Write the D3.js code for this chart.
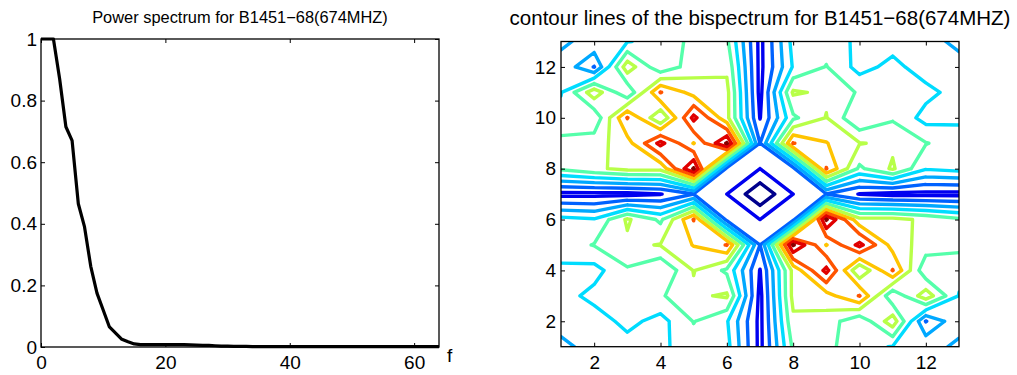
<!DOCTYPE html>
<html><head><meta charset="utf-8">
<script src="https://cdn.jsdelivr.net/npm/d3@7"></script>
<style>
body{margin:0;background:#fff}
text{font-family:Helvetica,Arial,"Liberation Sans",sans-serif;fill:#000}
</style>
</head><body>
<svg id="chart" width="1017" height="375"></svg>
<script>
// ---------- data: power spectrum ----------
const powerF = [0,1,2,3,4,5,6,7,8,9,10,11,12,13,14,15,16,17,18,19,20,21,22,23,24,25,26,27,28,29,30,31,32,33,34,35,36,37,38,39,40,41,42,43,44,45,46,47,48,49,50,51,52,53,54,55,56,57,58,59,60,61,62,63,64];
const powerVals = [1.0,1.0,1.0,0.87,0.715,0.67,0.465,0.39,0.262,0.175,0.12,0.065,0.045,0.025,0.017,0.01,0.008,0.008,0.008,0.008,0.008,0.008,0.008,0.008,0.007,0.006,0.005,0.005,0.004,0.003,0.003,0.002,0.002,0.002,0.001,0.001,0.001,0.001,0.001,0.001,0.001,0.001,0.001,0.001,0.001,0.001,0.001,0.001,0.001,0.001,0.001,0.001,0.001,0.001,0.001,0.001,0.001,0.001,0.001,0.001,0.001,0.001,0.001,0.001,0.001];
const powerXTicks = [0,20,40,60];
const powerYTicks = [0,0.2,0.4,0.6,0.8,1];

// ---------- data: bispectrum magnitude (rows listed from y=13 down to y=1, columns x=1..13) ----------
const gridX = [1,2,3,4,5,6,7,8,9,10,11,12,13];
const gridY = [1,2,3,4,5,6,7,8,9,10,11,12,13];
const bispecRowsTopDown = [
 [3.6, 4.8, 4.95,5.3, 6.3, 6.2, 1.7, 5.35,5.5, 4.8, 4.6, 4.6, 3.6],
 [4.8, 2.95,7.6, 5.2, 6.55,6.8, 1.7, 5.1, 6.05,4.63,5.3, 4.5, 4.6],
 [4.95,7.6, 5.15,9.05,7.6, 7.3, 1.7, 7.15,6.8, 5.87,5.5, 5.3, 4.6],
 [5.3, 5.2, 9.05,6.05,10.3,7.3, 1.95,5.8, 7.05,5.0, 5.87,4.63,4.8],
 [6.3, 6.55,7.6, 10.3,7.95,11.1,2.98,9.05,8.05,7.05,6.8, 6.05,5.5],
 [6.2, 6.8, 7.3, 7.3, 11.1,2.7, 2.0, 2.7, 9.05,5.8, 7.15,5.1, 5.35],
 [1.7, 1.7, 1.7, 1.95,2.98,2.0, 0.2, 2.0, 2.98,1.95,1.7, 1.7, 1.7],
 [5.35,5.1, 7.15,5.8, 9.05,2.7, 2.0, 2.7, 11.1,7.3, 7.3, 6.8, 6.2],
 [5.5, 6.05,6.8, 7.05,8.05,9.05,2.98,11.1,7.95,10.3,7.6, 6.55,6.3],
 [4.8, 4.63,5.87,5.0, 7.05,5.8, 1.95,7.3, 10.3,6.05,9.05,5.2, 5.3],
 [4.6, 5.3, 5.5, 5.87,6.8, 7.15,1.7, 7.3, 7.6, 9.05,5.15,7.6, 4.95],
 [4.6, 4.5, 5.3, 4.63,6.05,5.1, 1.7, 6.8, 6.55,5.2, 7.6, 2.95,4.8],
 [3.6, 4.6, 4.6, 4.8, 5.5, 5.35,1.7, 6.2, 6.3, 5.3, 4.95,4.8, 3.6]
];
const contourLevels = [1,2,3,4,5,6,7,8,9,10,11];
const levelColors = ["#00008c","#0000f0","#0062ff","#00a8ff","#00dcff","#55ffaa","#b8ff48","#ffc400","#ff5400","#e00000","#880000"];
const bispecTicks = [2,4,6,8,10,12];

const svg = d3.select("#chart");
const FS = 19;

// ===== Left panel: power spectrum =====
const L = {x0:41, x1:439, y0:39, y1:347};
const xP = d3.scaleLinear().domain([0,64]).range([L.x0,L.x1]);
const yP = d3.scaleLinear().domain([0,1]).range([L.y1,L.y0]);
const gL = svg.append("g");

function styleAxis(g){
  g.select(".domain").remove();
  g.selectAll(".tick line").attr("stroke","#000").attr("stroke-width",1);
  g.selectAll(".tick text").style("font-size",FS+"px").attr("fill","#000");
}
gL.append("g").attr("transform",`translate(0,${L.y1})`)
  .call(d3.axisBottom(xP).tickValues(powerXTicks).tickFormat(d3.format("d")).tickSizeInner(-4).tickSizeOuter(0).tickPadding(9))
  .call(styleAxis);
gL.append("g").attr("transform",`translate(0,${L.y0})`)
  .call(d3.axisTop(xP).tickValues(powerXTicks).tickFormat("").tickSizeInner(-4).tickSizeOuter(0))
  .call(styleAxis);
gL.append("g").attr("transform",`translate(${L.x0},0)`)
  .call(d3.axisLeft(yP).tickValues(powerYTicks).tickFormat(d=>d===0||d===1?String(d):d3.format(".1f")(d)).tickSizeInner(-4).tickSizeOuter(0).tickPadding(4))
  .call(styleAxis);
gL.append("g").attr("transform",`translate(${L.x1},0)`)
  .call(d3.axisRight(yP).tickValues(powerYTicks).tickFormat("").tickSizeInner(-4).tickSizeOuter(0))
  .call(styleAxis);
gL.append("rect").attr("x",L.x0).attr("y",L.y0).attr("width",L.x1-L.x0).attr("height",L.y1-L.y0)
  .attr("fill","none").attr("stroke","#000").attr("stroke-width",1.3);
gL.append("path").datum(powerF.map((f,i)=>[f,powerVals[i]]))
  .attr("d",d3.line().x(d=>xP(d[0])).y(d=>yP(d[1])))
  .attr("fill","none").attr("stroke","#000").attr("stroke-width",3.2).attr("stroke-linejoin","round");
gL.append("text").attr("x",(L.x0+L.x1)/2).attr("y",23).attr("text-anchor","middle")
  .style("font-size","16.4px").text("Power spectrum for B1451\u221268(674MHZ)");
gL.append("text").attr("x",447).attr("y",361.5).style("font-size",FS+"px").text("f");

// ===== Right panel: bispectrum contours =====
const R = {x0:561, x1:959, y0:41.5, y1:346.7};
const xB = d3.scaleLinear().domain([1,13]).range([R.x0,R.x1]);
const yB = d3.scaleLinear().domain([1,13]).range([R.y1,R.y0]);
const gR = svg.append("g");
const Z = bispecRowsTopDown.slice().reverse(); // Z[j][i] -> (gridX[i], gridY[j])

function marchingSegments(level){
  const segs=[];
  for(let j=0;j<gridY.length-1;j++){
    for(let i=0;i<gridX.length-1;i++){
      const a=Z[j][i], b=Z[j][i+1], c=Z[j+1][i+1], d=Z[j+1][i];
      const idx=(a>=level?1:0)|(b>=level?2:0)|(c>=level?4:0)|(d>=level?8:0);
      if(idx===0||idx===15) continue;
      const x0=gridX[i], x1=gridX[i+1], y0=gridY[j], y1=gridY[j+1];
      const t=(p,q)=>(level-p)/(q-p);
      const E=[[x0+t(a,b)*(x1-x0),y0],[x1,y0+t(b,c)*(y1-y0)],[x0+t(d,c)*(x1-x0),y1],[x0,y0+t(a,d)*(y1-y0)]];
      const hi=(a+b+c+d)/4>=level;
      const table={1:[[3,0]],2:[[0,1]],3:[[3,1]],4:[[1,2]],
        5:hi?[[0,1],[2,3]]:[[3,0],[1,2]],6:[[0,2]],7:[[3,2]],8:[[2,3]],9:[[0,2]],
        10:hi?[[3,0],[1,2]]:[[0,1],[2,3]],11:[[1,2]],12:[[1,3]],13:[[0,1]],14:[[0,3]]};
      table[idx].forEach(([p,q])=>segs.push([E[p],E[q]]));
    }
  }
  return segs;
}
gR.append("clipPath").attr("id","clipR").append("rect")
  .attr("x",R.x0).attr("y",R.y0).attr("width",R.x1-R.x0).attr("height",R.y1-R.y0);
const lineB = d3.line().x(d=>xB(d[0])).y(d=>yB(d[1]));
const gC = gR.append("g").attr("clip-path","url(#clipR)");
contourLevels.forEach((lv,k)=>{
  const segs=marchingSegments(lv);
  gC.append("path").attr("d",segs.map(s=>lineB(s)).join(""))
    .attr("fill","none").attr("stroke",levelColors[k]).attr("stroke-width",3.4)
    .attr("stroke-linecap","round").attr("stroke-linejoin","round");
});
gR.append("g").attr("transform",`translate(0,${R.y1})`)
  .call(d3.axisBottom(xB).tickValues(bispecTicks).tickSizeInner(-4).tickSizeOuter(0).tickPadding(9)).call(styleAxis);
gR.append("g").attr("transform",`translate(0,${R.y0})`)
  .call(d3.axisTop(xB).tickValues(bispecTicks).tickFormat("").tickSizeInner(-4).tickSizeOuter(0)).call(styleAxis);
gR.append("g").attr("transform",`translate(${R.x0},0)`)
  .call(d3.axisLeft(yB).tickValues(bispecTicks).tickSizeInner(-4).tickSizeOuter(0).tickPadding(5)).call(styleAxis);
gR.append("g").attr("transform",`translate(${R.x1},0)`)
  .call(d3.axisRight(yB).tickValues(bispecTicks).tickFormat("").tickSizeInner(-4).tickSizeOuter(0)).call(styleAxis);
gR.append("rect").attr("x",R.x0).attr("y",R.y0).attr("width",R.x1-R.x0).attr("height",R.y1-R.y0)
  .attr("fill","none").attr("stroke","#000").attr("stroke-width",1.3);
gR.append("text").attr("x",(R.x0+R.x1)/2).attr("y",25).attr("text-anchor","middle")
  .style("font-size","20.5px").text("contour lines of the bispectrum for B1451\u221268(674MHZ)");
</script>
</body></html>
